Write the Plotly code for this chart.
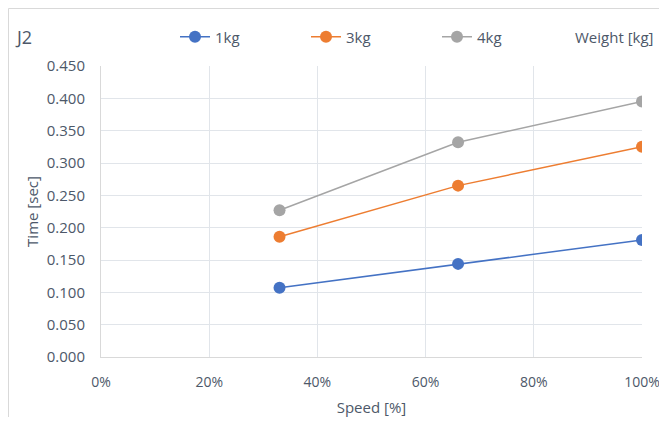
import plotly.graph_objects as go

speed = [33, 66, 100]
series_names = ["1kg", "3kg", "4kg"]
t_1kg = [0.107, 0.144, 0.181]
t_3kg = [0.186, 0.265, 0.325]
t_4kg = [0.227, 0.332, 0.395]
colors = ["#4472C4", "#ED7D31", "#A5A5A5"]
x_ticks = [0, 20, 40, 60, 80, 100]
x_ticklabels = ["0%", "20%", "40%", "60%", "80%", "100%"]

FONT = "Open Sans, Liberation Sans, sans-serif"
TXT = "#4D5869"

fig = go.Figure()
for name, vals, c in zip(series_names, [t_1kg, t_3kg, t_4kg], colors):
    fig.add_trace(go.Scatter(
        x=speed, y=vals, name=name, mode="lines+markers",
        line=dict(color=c, width=1.5),
        marker=dict(color=c, size=12),
    ))

# page body has an 8px margin: figure coords = screen coords - 8
OFF = 8
W, H = 667 - 2 * OFF, 425 - 2 * OFF
L, R_edge, T, B_edge = 101 - OFF, 642 - OFF, 66 - OFF, 357 - OFF
pw, ph = R_edge - L, B_edge - T

def px(xs):
    return (xs - OFF - L) / pw

def py(ys):
    return (B_edge - (ys - OFF)) / ph

fig.update_layout(
    width=W, height=H,
    margin=dict(l=L, r=W - R_edge, t=T, b=H - B_edge, autoexpand=False),
    paper_bgcolor="white", plot_bgcolor="white",
    font=dict(family=FONT, color=TXT, size=15),
    showlegend=True,
    legend=dict(orientation="h", x=px(175), y=py(37), xanchor="left", yanchor="middle",
                entrywidth=86, font=dict(size=15, color=TXT), bgcolor="rgba(0,0,0,0)",
                itemclick=False),
    xaxis=dict(range=[0, 100], tickvals=x_ticks, ticktext=x_ticklabels,
               tickfont=dict(size=14),
               showgrid=True, gridcolor="#E1E5EA", gridwidth=1,
               showline=True, linecolor="#D9D9D9", linewidth=1, mirror=False,
               zeroline=False, ticks="", ticklen=0, automargin=False,
               ticklabelstandoff=12, ticklabeloverflow="allow",
               title=dict(text="Speed [%]", font=dict(size=15, color=TXT), standoff=12)),
    yaxis=dict(range=[0, 0.45], dtick=0.05, tickformat=".3f",
               showgrid=True, gridcolor="#E1E5EA", gridwidth=1,
               showline=True, linecolor="#D9D9D9", linewidth=1, automargin=False,
               zeroline=False, ticks="", ticklabelstandoff=12,
               title=dict(text="Time [sec]", font=dict(size=15, color=TXT), standoff=4)),
    annotations=[
        dict(text="J2", xref="paper", yref="paper", x=px(13), y=py(37),
             xanchor="left", yanchor="middle", showarrow=False,
             font=dict(size=18, color=TXT)),
        dict(text="Weight [kg]", xref="paper", yref="paper", x=px(656), y=py(37),
             xanchor="right", yanchor="middle", showarrow=False,
             font=dict(size=15, color=TXT)),
    ],
    shapes=[
        dict(type="rect", xref="paper", yref="paper",
             x0=px(8.5), x1=px(700), y0=py(500), y1=py(8.5),
             line=dict(color="#D9D9D9", width=1), fillcolor="rgba(0,0,0,0)", layer="below"),
    ],
)

fig.write_html("out.html")
